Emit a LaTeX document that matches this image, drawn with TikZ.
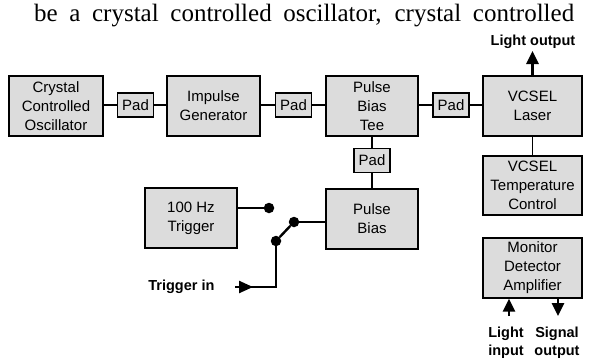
\documentclass[tikz,border=0pt]{standalone}
\usepackage{fontspec}
\setmainfont{Liberation Serif}
\setsansfont{Liberation Sans}
\usetikzlibrary{arrows.meta}
\definecolor{boxfill}{HTML}{DCDCDC}
\tikzset{
  blk/.style={draw=black, fill=boxfill, line width=1.3pt, align=center,
    font=\sffamily\fontsize{15}{19}\selectfont, inner sep=0pt},
  padbox/.style={draw=black, fill=boxfill, line width=1.3pt, align=center,
    font=\sffamily\fontsize{15}{17}\selectfont, inner sep=0pt,
    minimum width=36pt, minimum height=24pt},
  wire/.style={line width=1.3pt},
  swire/.style={line width=2.4pt},
  dot/.style={circle, fill=black, inner sep=0pt, minimum size=10.5pt},
  lbl/.style={font=\sffamily\bfseries\fontsize{14.5}{18}\selectfont, align=center},
  bigarrow/.style={line width=2.6pt, -{Triangle[width=12pt,length=13pt]}}
}
\begin{document}
\begin{tikzpicture}[x=1pt,y=-1pt]
\useasboundingbox (0,0) rectangle (597,364);
% top text
\node[font=\fontsize{25}{28}\selectfont, inner sep=0pt, anchor=base west] (toptext) at (34,21)
  {\makebox[540pt][s]{be a crystal controlled oscillator, crystal controlled}};
% main chain
\node[blk, minimum width=94pt, minimum height=60pt] (osc) at (56,106) {Crystal\\Controlled\\Oscillator};
\node[padbox] (pad1) at (135.5,105) {Pad};
\node[blk, minimum width=93pt, minimum height=60pt] (imp) at (213.5,106) {Impulse\\Generator};
\node[padbox] (pad2) at (293.5,105) {Pad};
\node[blk, minimum width=92pt, minimum height=60pt] (tee) at (372,106) {Pulse\\Bias\\Tee};
\node[padbox] (pad3) at (451,105) {Pad};
\node[blk, minimum width=99pt, minimum height=60pt] (vcsel) at (532.5,106) {VCSEL\\Laser};
\node[padbox] (padv) at (372,160.5) {Pad};
\node[blk, minimum width=92pt, minimum height=60pt] (pbias) at (372,219) {Pulse\\Bias};
\node[blk, minimum width=92pt, minimum height=60pt] (trig) at (191,218) {100 Hz\\Trigger};
\node[blk, minimum width=99pt, minimum height=59pt] (temp) at (532.5,185.5) {VCSEL\\Temperature\\Control};
\node[blk, minimum width=99pt, minimum height=60pt] (mon) at (532.5,268) {Monitor\\Detector\\Amplifier};
% chain wires
\draw[wire] (osc.east |- pad1) -- (pad1.west);
\draw[wire] (pad1.east) -- (imp.west |- pad1);
\draw[wire] (imp.east |- pad2) -- (pad2.west);
\draw[wire] (pad2.east) -- (tee.west |- pad2);
\draw[wire] (tee.east |- pad3) -- (pad3.west);
\draw[wire] (pad3.east) -- (vcsel.west |- pad3);
\draw[wire] (tee.south) -- (padv.north);
\draw[wire] (padv.south) -- (pbias.north);
\draw[wire] (vcsel.south) -- (temp.north);
% switch
\node[dot] (d1) at (269,208) {};
\node[dot] (d2) at (294,222) {};
\node[dot] (d3) at (276,241) {};
\draw[swire] (trig.east |- d1) -- (d1);
\draw[swire] (d2) -- (pbias.west |- d2);
\draw[swire] (d3) -- (d2);
\coordinate (tin) at (235,287);
\coordinate (tmid) at (253,287);
\coordinate (corner) at (276,287);
\draw[swire] (tin) -- (corner) -- (d3);
\draw[line width=2.4pt, -{Triangle[width=12pt,length=14pt]}] (tin) -- (tmid);
\node[lbl, anchor=east] (trigin) at (218,287) {Trigger in};
% light output
\coordinate (lotip) at (532.5,51);
\draw[bigarrow] (vcsel.north) -- (lotip);
\node[lbl] (lightout) at (533,42) {Light output};
% monitor arrows
\coordinate (liin) at (509,316);
\coordinate (soout) at (558,316);
\draw[bigarrow] (liin) -- (liin |- mon.south);
\draw[bigarrow] (soout |- mon.south) -- (soout);
\node[lbl] (lightin) at (506,343) {Light\\input};
\node[lbl] (sigout) at (557,343) {Signal\\output};
\end{tikzpicture}
\end{document}
